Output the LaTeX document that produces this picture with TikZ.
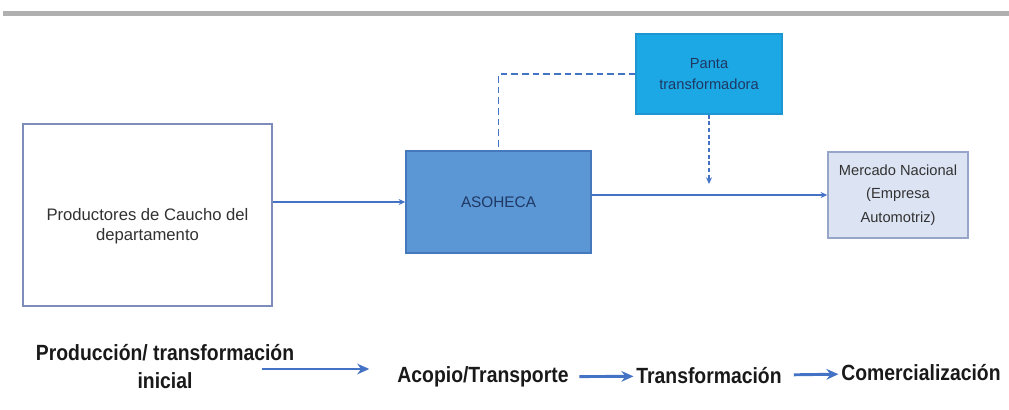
\documentclass[tikz,border=0pt]{standalone}
\usepackage{fontspec}
\setmainfont{Liberation Sans}
\newfontfamily\stagefont{Liberation Sans Bold}[FakeStretch=0.88]
\usepackage{xcolor}
\usepackage{tikz}
\usetikzlibrary{arrows.meta}
\definecolor{topgray}{RGB}{176,176,176}
\definecolor{prodedge}{RGB}{125,140,185}
\definecolor{asofill}{RGB}{91,150,213}
\definecolor{asoedge}{RGB}{70,120,190}
\definecolor{plantafill}{RGB}{28,168,228}
\definecolor{plantaedge}{RGB}{30,150,210}
\definecolor{mercadofill}{RGB}{220,228,244}
\definecolor{mercadoedge}{RGB}{150,165,200}
\definecolor{linkblue}{RGB}{68,114,196}
\definecolor{asotext}{RGB}{31,56,100}
\definecolor{textgray}{RGB}{50,50,50}
\definecolor{stageblack}{RGB}{25,25,25}

\begin{document}
\begin{tikzpicture}[->, >={Stealth[length=5pt,width=4.5pt]}, x=0.75pt, y=-0.75pt,
    box/.style={draw, rectangle, align=center, inner sep=3pt, line width=1.1pt},
    stage/.style={font=\stagefont\fontsize{16.5}{21}\selectfont, text=stageblack, align=center, inner sep=2pt},
    link/.style={draw=linkblue, line width=1.3pt},
    stagearrow/.style={draw=linkblue, line width=2.2pt, -{Stealth[length=9pt,width=8pt]}}]
        \useasboundingbox (0,0) rectangle (1009,410);
        \draw[-, line width=4pt, topgray] (3,13.5) -- (1009,13.5);

        \node[box, draw=prodedge, fill=white, minimum width=186.75pt, minimum height=136.5pt,
              font=\fontsize{12.5}{15}\selectfont, text=textgray] (prod) at (147.5,215) {\rule{0pt}{26pt}Productores de Caucho del\\departamento};
        \node[box, draw=asoedge, fill=asofill, minimum width=138.75pt, minimum height=76.5pt,
              font=\fontsize{11.5}{14}\selectfont, text=asotext] (asoheca) at (498.5,202) {ASOHECA};
        \node[box, draw=plantaedge, fill=plantafill, minimum width=109.5pt, minimum height=60pt,
              font=\fontsize{11}{16}\selectfont, text=asotext] (planta) at (709,74) {Panta\\transformadora};
        \node[box, draw=mercadoedge, fill=mercadofill, minimum width=105pt, minimum height=64.5pt,
              font=\fontsize{11}{17.5}\selectfont, text=textgray] (mercado) at (898,195) {Mercado Nacional\\(Empresa\\Automotriz)};

        \node[stage] (prodstage) at (165,367) {Producción/ transformación\\inicial};
        \node[stage] (acopio) at (483,377) {Acopio/Transporte};
        \node[stage] (transf) at (709,376) {Transformación};
        \node[stage] (comerc) at (921,373) {Comercialización};

        \draw[link] (prod.east |- asoheca.west) -- (asoheca.west);
        \draw[link] (asoheca.east |- mercado.west) -- (mercado.west);
        \draw[link, -, dash pattern=on 5pt off 3pt] (planta.west) -| (asoheca.north);
        \coordinate (drop) at (709,184);
        \draw[link, dash pattern=on 3pt off 2pt] (planta.south) -- (drop);

        \coordinate (p1) at (262,369);
        \draw[stagearrow, shorten >=19pt] (p1) -- (p1 -| acopio.west);
        \draw[stagearrow, shorten <=6pt] (acopio) -- (transf);
        \draw[stagearrow, shorten <=7pt] (transf) -- (comerc);
      \end{tikzpicture}
\end{document}
